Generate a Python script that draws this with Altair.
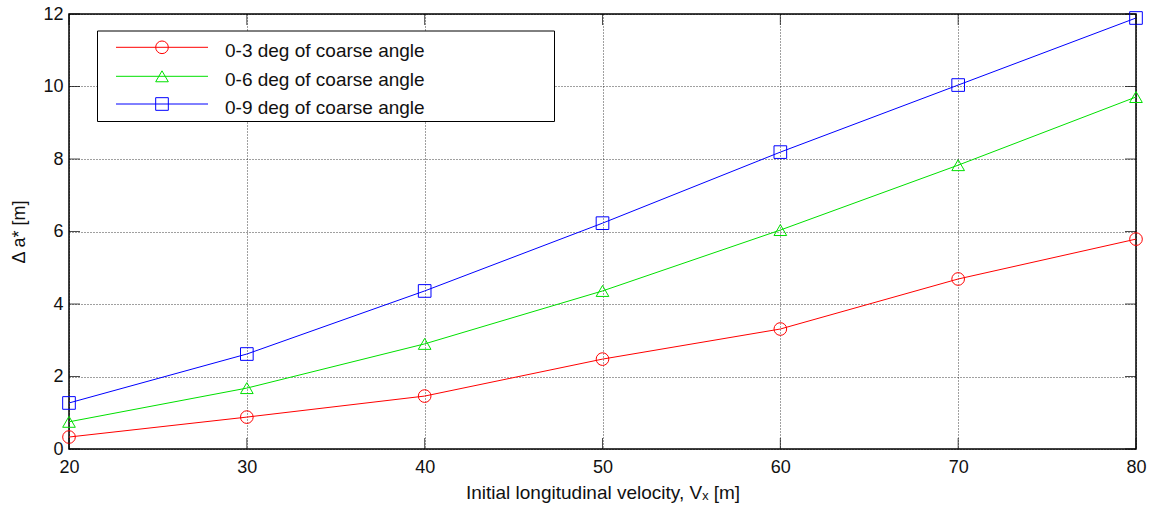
import altair as alt
import pandas as pd

velocity = [20, 30, 40, 50, 60, 70, 80]
series_names = ["0-3 deg of coarse angle", "0-6 deg of coarse angle", "0-9 deg of coarse angle"]
vals_3 = [0.33, 0.88, 1.46, 2.48, 3.31, 4.69, 5.79]
vals_6 = [0.75, 1.68, 2.90, 4.36, 6.04, 7.83, 9.71]
vals_9 = [1.27, 2.62, 4.36, 6.23, 8.19, 10.04, 11.89]
colors = ["#FF0000", "#00E000", "#0000FF"]
shapes = ["circle", "triangle-up", "square"]
x_ticks = [20, 30, 40, 50, 60, 70, 80]
y_ticks = [0, 2, 4, 6, 8, 10, 12]

rows = []
for name, vals in zip(series_names, [vals_3, vals_6, vals_9]):
    for v, a in zip(velocity, vals):
        rows.append({"series": name, "v": v, "a": a})
df = pd.DataFrame(rows)

W, H = 1067, 435

xs = alt.Scale(domain=[20, 80], nice=False, zero=False)
ys = alt.Scale(domain=[0, 12], nice=False)
cs = alt.Scale(domain=series_names, range=colors)
ss = alt.Scale(domain=series_names, range=shapes)

base = alt.Chart(df)

lines = base.mark_line(strokeWidth=1).encode(
    x=alt.X("v:Q", scale=xs, axis=alt.Axis(
        values=x_ticks, title="Initial longitudinal velocity, Vₓ [m]", grid=True,
        tickSize=0, labelPadding=9, titlePadding=7, domain=False, labelFlush=False,
        titleFontSize=19)),
    y=alt.Y("a:Q", scale=ys, axis=alt.Axis(
        values=y_ticks, title="Δ a* [m]", grid=True, tickSize=0,
        labelPadding=6, titlePadding=14, domain=False, labelFlush=False,
        titleFontSize=18)),
    color=alt.Color("series:N", scale=cs, legend=None),
)
points = base.mark_point(filled=False, strokeWidth=1, size=160, opacity=1).encode(
    x=alt.X("v:Q", scale=xs),
    y=alt.Y("a:Q", scale=ys),
    color=alt.Color("series:N", scale=cs, legend=None),
    shape=alt.Shape("series:N", scale=ss, legend=None),
)

xt = pd.DataFrame({"t": x_ticks})
yt = pd.DataFrame({"t": y_ticks})
tick_bottom = alt.Chart(xt).mark_tick(color="black", size=11, thickness=1).encode(
    x=alt.X("t:Q", scale=xs), y=alt.value(H - 5.5))
tick_top = alt.Chart(xt).mark_tick(color="black", size=11, thickness=1).encode(
    x=alt.X("t:Q", scale=xs), y=alt.value(5.5))
tick_left = alt.Chart(yt).mark_tick(color="black", size=11, thickness=1).encode(
    y=alt.Y("t:Q", scale=ys), x=alt.value(5.5))
tick_right = alt.Chart(yt).mark_tick(color="black", size=11, thickness=1).encode(
    y=alt.Y("t:Q", scale=ys), x=alt.value(W - 5.5))

one = pd.DataFrame({"k": [0]})
legend_layers = [
    alt.Chart(one).mark_rect(fill="white", stroke="black", strokeWidth=1).encode(
        x=alt.value(28.5), x2=alt.value(485.5), y=alt.value(17), y2=alt.value(107.5))
]
row_y = [33.3, 62.3, 90]
for name, col, shp, yy in zip(series_names, colors, shapes, row_y):
    legend_layers.append(alt.Chart(one).mark_rule(color=col, strokeWidth=1).encode(
        x=alt.value(47), x2=alt.value(139), y=alt.value(yy)))
    legend_layers.append(alt.Chart(one).mark_point(filled=False, strokeWidth=1, size=160, opacity=1, color=col, shape=shp).encode(
        x=alt.value(93), y=alt.value(yy)))
    legend_layers.append(alt.Chart(one).mark_text(align="left", baseline="middle", fontSize=19, font="Liberation Sans", color="#111").encode(
        x=alt.value(156), y=alt.value(yy + 4), text=alt.value(name)))

chart = alt.layer(lines, points, tick_bottom, tick_top, tick_left, tick_right, *legend_layers).properties(
    width=W, height=H,
    background="white",
    autosize=alt.AutoSizeParams(type="none"),
    padding={"left": 69, "top": 14, "right": 21, "bottom": 61},
).configure_view(stroke="black", strokeWidth=1.5).configure_axis(
    labelFont="Liberation Sans", titleFont="Liberation Sans",
    labelFontSize=18, labelColor="#111", titleColor="#111",
    titleFontWeight="normal", gridColor="black", gridDash=[1, 2], gridOpacity=0.75, gridWidth=1,
)

chart.save("out.html", embed_options={"renderer": "svg", "actions": False})
